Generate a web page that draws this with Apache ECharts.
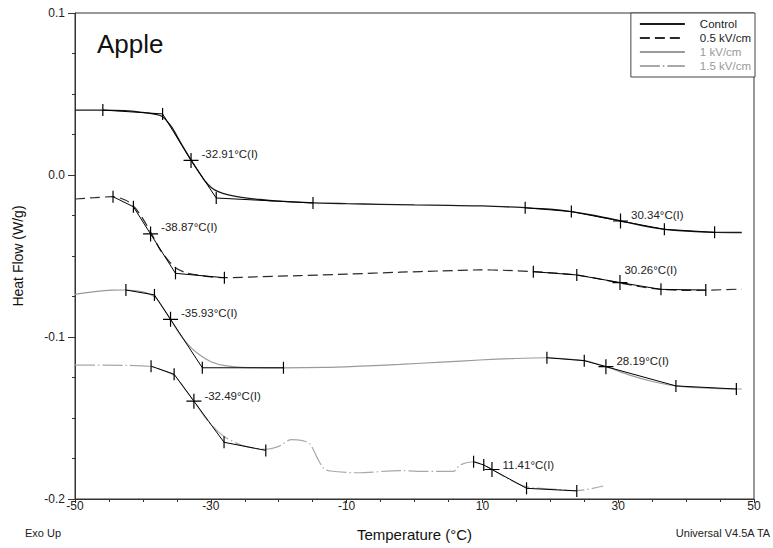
<!DOCTYPE html>
<html><head><meta charset="utf-8">
<script src="https://cdn.jsdelivr.net/npm/echarts@6/dist/echarts.min.js"></script>
<style>html,body{margin:0;padding:0;background:#fff}#c{width:773px;height:548px}</style>
</head><body><div id="c"></div>
<script>
// ---------- data ----------
const seriesNames = ['Control', '0.5 kV/cm', '1 kV/cm', '1.5 kV/cm'];
const xTickValues = [-50, -30, -10, 10, 30, 50];
const yTickLabels = ['-0.2', '-0.1', '0.0', '0.1'];

const control = [[-50,0.0401],[-46,0.0401],[-42.6,0.0397],[-40.2,0.0387],[-38.2,0.0375],[-37.1,0.0360],[-35.8,0.0298],[-34.8,0.0226],[-33.8,0.0154],[-32.8,0.0086],[-31.8,0.0021],[-30.9,-0.0035],[-29.9,-0.0078],[-28.9,-0.0103],[-27.4,-0.0123],[-25.5,-0.0138],[-23,-0.0150],[-20.5,-0.0160],[-15.6,-0.0171],[-10,-0.0177],[-5,-0.0181],[0,-0.0185],[5,-0.0188],[10,-0.0191],[16.3,-0.0202],[20,-0.0211],[23.1,-0.0226],[26.5,-0.0250],[30.4,-0.0284],[33.5,-0.0312],[36.8,-0.0335],[40,-0.0347],[44.2,-0.0354],[48.2,-0.0355]];

const kv05 = [[-50,-0.0148],[-47.1,-0.0140],[-44.5,-0.0134],[-42.6,-0.0154],[-41.4,-0.0191],[-40.2,-0.0257],[-38.7,-0.0364],[-37.5,-0.0459],[-36.3,-0.0525],[-35.2,-0.0572],[-33.8,-0.0601],[-31.8,-0.0619],[-28,-0.0634],[-23,-0.0628],[-16.9,-0.0621],[-10,-0.0612],[-2.1,-0.0600],[4,-0.0592],[9.6,-0.0586],[13,-0.0588],[17.5,-0.0597],[20.7,-0.0605],[23.9,-0.0617],[27,-0.0640],[30.3,-0.0667],[33.3,-0.0690],[36.3,-0.0706],[39.5,-0.0712],[42.9,-0.0711],[48.2,-0.0704]];

const kv1 = [[-50,-0.0737],[-47.1,-0.0720],[-44.6,-0.0711],[-42.5,-0.0710],[-40.2,-0.0720],[-38.3,-0.0751],[-37.2,-0.0809],[-35.8,-0.0901],[-34.3,-0.0998],[-32.8,-0.1070],[-31.3,-0.1121],[-29.9,-0.1154],[-27.9,-0.1177],[-25.5,-0.1187],[-19.3,-0.1191],[-13.2,-0.1188],[-8,-0.1180],[-2.1,-0.1169],[4,-0.1155],[9.6,-0.1142],[14.5,-0.1133],[19.5,-0.1128],[22,-0.1134],[25,-0.1146],[28.2,-0.1183],[31.7,-0.1235],[35.2,-0.1276],[38.5,-0.1302],[41.6,-0.1313],[47.4,-0.1321],[48.2,-0.1321]];

const kv15 = [[-50,-0.1173],[-42.6,-0.1175],[-38.8,-0.1183],[-37.2,-0.1204],[-35.4,-0.1238],[-33.8,-0.1321],[-32.4,-0.1400],[-30.4,-0.1520],[-28.1,-0.1612],[-25.5,-0.1667],[-21.9,-0.1693],[-20.1,-0.1677],[-18.1,-0.1634],[-16.5,-0.1640],[-15.4,-0.1660],[-14.4,-0.1740],[-13.4,-0.1810],[-12.4,-0.1827],[-8.5,-0.1838],[-2.1,-0.1825],[1.8,-0.1830],[5.7,-0.1830],[6.7,-0.1790],[8.7,-0.1770],[10.2,-0.1790],[11.5,-0.1820],[14,-0.1880],[16.5,-0.1925],[20.7,-0.1940],[23.9,-0.1948],[27.8,-0.1920]];

// analysis constructions: limit, limit, inflection (I), limit, limit
const control_tg1 = [[-45.9,0.0401],[-37.1,0.0377],[-32.91,0.0090],[-29.2,-0.0142],[-14.95,-0.0173]];
const control_tg2 = [[16.3,-0.0202],[23.1,-0.0226],[30.34,-0.0284],[36.8,-0.0335],[44.2,-0.0354]];
const kv05_tg1 = [[-44.4,-0.0134],[-41.4,-0.0196],[-38.87,-0.0364],[-35.2,-0.0607],[-28.0,-0.0634]];
const kv05_tg2 = [[17.5,-0.0597],[23.9,-0.0617],[30.26,-0.0664],[36.3,-0.0706],[42.9,-0.0710]];
const kv1_tg1 = [[-42.5,-0.0710],[-38.3,-0.0740],[-35.93,-0.0891],[-31.25,-0.1190],[-19.3,-0.1190]];
const kv1_tg2 = [[19.5,-0.1128],[25.0,-0.1146],[28.19,-0.1183],[38.5,-0.1302],[47.4,-0.1321]];
const kv15_tg1 = [[-38.8,-0.1180],[-35.4,-0.1230],[-32.49,-0.1396],[-28.05,-0.1650],[-21.9,-0.1700]];
const kv15_tg2 = [[8.7,-0.1770],[10.2,-0.1790],[11.41,-0.1818],[16.5,-0.1934],[23.9,-0.1950]];
const transitionLabels = ['-32.91°C(I)','30.34°C(I)','-38.87°C(I)','30.26°C(I)','-35.93°C(I)','28.19°C(I)','-32.49°C(I)','11.41°C(I)'];

// ---------- styling ----------
const FONT = 'Liberation Sans, Arial, sans-serif';
const curveStyles = [
  {color:'#1a1a1a', width:1.3, type:'solid'},
  {color:'#2a2a2a', width:1.2, type:[10,5]},
  {color:'#9a9a9a', width:1.2, type:'solid'},
  {color:'#a8a8a8', width:1.2, type:[20,3,1.5,3]}
];
const legendTextColors = ['#222','#222','#999','#999'];
const constructions = [control_tg1, control_tg2, kv05_tg1, kv05_tg2, kv1_tg1, kv1_tg2, kv15_tg1, kv15_tg2];
const labelOffsets = [[0,-6],[0,-6],[0,-7],[-6,-13],[0,-6],[0,-6],[0,-5],[0,-5]];
const CROSS = 'path://M4.6,0H5.4V4.6H10V5.4H5.4V10H4.6V5.4H0V4.6H4.6Z';

const curves = [control, kv05, kv1, kv15];
const series = curves.map((d, i) => ({
  name: seriesNames[i], type: 'line', data: d, smooth: 0.3, symbol: 'none',
  lineStyle: curveStyles[i], itemStyle: {color: curveStyles[i].color}, z: 2, silent: true
}));
constructions.forEach((pts, k) => {
  series.push({
    name: 'tg' + k, type: 'line', z: 5, silent: true,
    lineStyle: {color: '#000', width: 1}, itemStyle: {color: '#000'},
    showSymbol: true,
    data: pts.map((p, j) => j === 2 ? {
      value: p, symbol: CROSS, symbolSize: 15,
      label: {show: true, position: 'right', distance: 3, offset: labelOffsets[k],
              formatter: transitionLabels[k], color: '#222', fontSize: 11.5, fontFamily: FONT}
    } : {value: p, symbol: 'rect', symbolSize: [1.2, 12]})
  });
});

const chart = echarts.init(document.getElementById('c'), null, {renderer: 'svg'});
chart.setOption({
  animation: false,
  backgroundColor: '#fff',
  grid: {left: 75, right: 19, top: 13, bottom: 49, show: true, borderColor: '#333', borderWidth: 1},
  xAxis: {
    type: 'value', min: -50, max: 50, interval: 20,
    name: 'Temperature (°C)', nameLocation: 'middle', nameGap: 28,
    nameTextStyle: {fontSize: 15, color: '#111', fontFamily: FONT},
    axisLine: {show: true, onZero: false, lineStyle: {color: '#333', width: 1}},
    axisTick: {show: true, inside: false, length: 4, lineStyle: {color: '#333'}},
    minorTick: {show: true, splitNumber: 4, length: 3, lineStyle: {color: '#333'}},
    splitLine: {show: false},
    axisLabel: {margin: 1, fontSize: 12, color: '#222', fontFamily: FONT,
      formatter: v => xTickValues.indexOf(v) >= 0 ? String(v) : ''}
  },
  yAxis: {
    type: 'value', min: -0.2, max: 0.1, interval: 0.1,
    name: 'Heat Flow (W/g)', nameLocation: 'middle', nameGap: 50,
    nameTextStyle: {fontSize: 14, color: '#111', fontFamily: FONT},
    axisLine: {show: true, onZero: false, lineStyle: {color: '#333', width: 1}},
    axisTick: {show: true, inside: false, length: 7, lineStyle: {color: '#333'}},
    minorTick: {show: true, splitNumber: 4, length: 3, lineStyle: {color: '#333'}},
    splitLine: {show: false},
    axisLabel: {margin: 10, fontSize: 12, color: '#222', fontFamily: FONT,
      formatter: v => yTickLabels[Math.round((v + 0.2) * 10)]}
  },
  legend: {
    data: seriesNames.map((n, i) => ({name: n, textStyle: {color: legendTextColors[i]}})),
    orient: 'vertical', right: 18, top: 13, itemWidth: 45, itemHeight: 10, itemGap: 1,
    padding: [4.5, 4, 4.5, 8], borderColor: '#444', borderWidth: 1, backgroundColor: '#fff',
    selectedMode: false,
    itemStyle: {opacity: 0, borderWidth: 0},
    textStyle: {fontSize: 11.5, fontFamily: FONT, lineHeight: 13, padding: [0, 0, 0, 10]}
  },
  graphic: [
    {type: 'text', left: 97, top: 31, style: {text: 'Apple', fontSize: 26, fontFamily: FONT, fill: '#111'}},
    {type: 'text', left: 25, top: 527, style: {text: 'Exo Up', fontSize: 11, fontFamily: FONT, fill: '#222'}},
    {type: 'text', right: 2, top: 527, style: {text: 'Universal V4.5A TA', fontSize: 11, fontFamily: FONT, fill: '#222'}}
  ],
  series: series
});
</script></body></html>
